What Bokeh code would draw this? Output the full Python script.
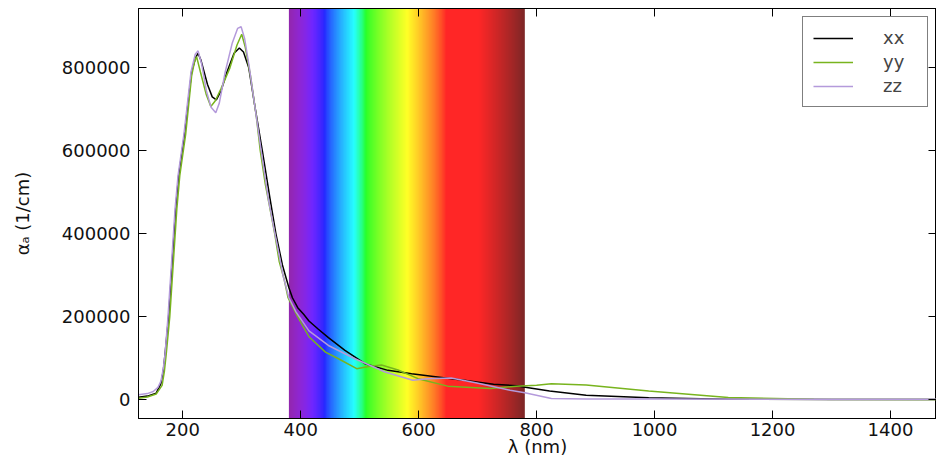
import numpy as np
from bokeh.plotting import figure
from bokeh.models import (Range1d, LinearAxis, FixedTicker, BasicTickFormatter,
                          Legend, LegendItem)
from bokeh.embed import file_html
from bokeh.resources import INLINE

# ---------------- data ----------------
xx_nm = [125, 140, 155, 163, 167, 170, 176, 182, 188, 193, 203, 215, 222, 226, 231,
         242, 250, 257, 265, 275, 287, 296, 303, 312, 322, 335, 348, 358, 369,
         380, 386, 395, 405, 414, 430, 447, 475, 509, 548, 588, 632, 677, 727, 766,
         778, 822, 884, 990, 1125, 1300, 1490]
xx_val = [6000, 9000, 16000, 39000, 70000, 110000, 200000, 330000, 460000, 540000,
          640000, 790000, 825000, 835000, 818000, 760000, 730000, 723000, 745000,
          790000, 835000, 848000, 838000, 800000, 710000, 600000, 485000, 400000,
          325000, 270000, 246000, 222000, 206000, 190000, 170000, 150000,
          119000, 87000, 71000, 63000, 55000, 47000, 37500, 34000, 31000, 21000,
          11000, 5000, 1600, 1000, 800]

yy_nm = [125, 140, 155, 165, 169, 172, 178, 184, 190, 195, 205, 215, 220, 223.5, 230,
         240, 247.6, 255, 265, 280, 292, 300, 306, 315, 325, 331.5, 340, 346, 356,
         363.5, 372, 378.6, 395, 414, 442, 464, 495, 515, 537, 565, 599, 649, 722,
         766, 800, 825, 884, 990, 1125, 1270, 1490]
yy_val = [4000, 7000, 14000, 35000, 70000, 110000, 200000, 330000, 460000, 540000,
          640000, 780000, 815000, 827000, 790000, 735000, 707000, 720000, 750000,
          800000, 855000, 881000, 850000, 780000, 680000, 600000, 520000, 475000,
          400000, 334000, 290000, 246000, 200000, 152000, 115000, 99000, 75000,
          80500, 84000, 72000, 51000, 33000, 27000, 32700, 35000, 39000, 36000,
          21000, 5500, 1600, 1000]

zz_nm = [125, 140, 150, 158, 163, 167, 170, 175, 181, 187, 192, 202, 214, 221, 226,
         232, 240, 248, 256, 262, 272, 284, 293, 299, 305, 313, 322, 333, 345, 355,
         363.5, 370, 380, 392, 414, 447, 492, 543, 590, 615, 655, 699, 755, 780, 825,
         884, 1000, 1490]
zz_val = [12000, 15000, 20000, 30000, 45000, 75000, 110000, 200000, 330000, 460000,
          540000, 640000, 790000, 832000, 841000, 810000, 745000, 705000, 692000,
          715000, 790000, 860000, 895000, 899000, 870000, 800000, 710000, 600000,
          485000, 410000, 349000, 300000, 246000, 212000, 166000, 131000, 99000,
          67000, 47000, 51000, 52500, 40600, 23000, 17000, 3100, 2000, 1800, 1500]

series_names = ["xx", "yy", "zz"]
series_colors = ["#000000", "#78b41e", "#b49adb"]

x_ticks = [200, 400, 600, 800, 1000, 1200, 1400]
y_ticks = [0, 200000, 400000, 600000, 800000]
visible_band = (380, 780)

FONT = "DejaVu Sans"


def wavelength_rgba(w, gamma=0.8, alpha=0.85):
    if w < 440:
        r, g, b = (440 - w) / 80.0, 0.0, 1.0
    elif w < 490:
        r, g, b = 0.0, (w - 440) / 50.0, 1.0
    elif w < 510:
        r, g, b = 0.0, 1.0, -(w - 510) / 20.0
    elif w < 580:
        r, g, b = (w - 510) / 70.0, 1.0, 0.0
    elif w < 645:
        r, g, b = 1.0, -(w - 645) / 65.0, 0.0
    else:
        r, g, b = 1.0, 0.0, 0.0
    if w < 420:
        f = 0.55 + 0.45 * (w - 380) / 40.0
    elif w > 700:
        f = 0.3 + 0.7 * (780 - w) / 80.0
    else:
        f = 1.0
    out = []
    for c in (r, g, b):
        v = (c * f) ** gamma if c > 0 else 0.0
        out.append(int(round((v * alpha + (1 - alpha)) * 255)))
    return out


y0, y1 = -45000, 943000
p = figure(width=936, height=459, output_backend="svg", toolbar_location=None,
           x_range=Range1d(125, 1478), y_range=Range1d(y0, y1),
           min_border_left=138, min_border_right=0, min_border_top=8,
           min_border_bottom=0, background_fill_color="white",
           border_fill_color="white")
p.grid.visible = False
p.outline_line_color = "black"
p.outline_line_width = 1

# visible spectrum band as a smooth gradient image
n = visible_band[1] - visible_band[0]
img = np.zeros((1, n), dtype=np.uint32)
view = img.view(dtype=np.uint8).reshape((1, n, 4))
for i in range(n):
    r, g, b = wavelength_rgba(visible_band[0] + i + 0.5)
    view[0, i] = [r, g, b, 255]
p.image_rgba(image=[img], x=visible_band[0], y=y0, dw=n, dh=y1 - y0)

renderers = []
for xs, ys, c in [(xx_nm, xx_val, series_colors[0]), (yy_nm, yy_val, series_colors[1]),
                  (zz_nm, zz_val, series_colors[2])]:
    r = p.line(xs, ys, line_color=c, line_width=1.5)
    renderers.append(r)


def style_axis(ax, labels=True):
    ax.major_tick_in = 8
    ax.major_tick_out = 0
    ax.minor_tick_line_color = None
    ax.axis_line_color = "black"
    ax.major_tick_line_color = "black"
    ax.major_label_text_font = FONT
    ax.major_label_text_font_size = "18px"
    ax.major_label_text_color = "#111111"
    ax.axis_label_text_font = FONT
    ax.axis_label_text_font_size = "18px"
    ax.axis_label_text_font_style = "normal"
    ax.axis_label_text_color = "#111111"
    if not labels:
        ax.major_label_text_color = None
        ax.major_label_text_font_size = "1px"
        ax.major_label_standoff = 0


p.xaxis.ticker = FixedTicker(ticks=x_ticks)
p.yaxis.ticker = FixedTicker(ticks=y_ticks)
p.yaxis.formatter = BasicTickFormatter(use_scientific=False)
p.xaxis.axis_label = "λ (nm)"
p.yaxis.axis_label = "αₐ (1/cm)"
style_axis(p.xaxis[0])
style_axis(p.yaxis[0])
p.xaxis.major_label_standoff = 4
p.xaxis.axis_label_standoff = -3
p.yaxis.major_label_standoff = 8
p.yaxis.axis_label_standoff = 26

top_ax = LinearAxis(ticker=FixedTicker(ticks=x_ticks))
right_ax = LinearAxis(ticker=FixedTicker(ticks=y_ticks))
style_axis(top_ax, labels=False)
style_axis(right_ax, labels=False)
p.add_layout(top_ax, "above")
p.add_layout(right_ax, "right")

legend = Legend(items=[LegendItem(label=nm, renderers=[r])
                       for nm, r in zip(series_names, renderers)],
                location="top_right")
legend.margin = 8
legend.padding = 10
legend.spacing = 3
legend.glyph_width = 40
legend.glyph_height = 20
legend.label_height = 20
legend.label_width = 34
legend.label_standoff = 30
legend.label_text_font = FONT
legend.label_text_font_size = "18px"
legend.border_line_color = "black"
legend.border_line_width = 1
legend.background_fill_alpha = 1
p.add_layout(legend)

open("out.html", "w").write(file_html(p, INLINE))
